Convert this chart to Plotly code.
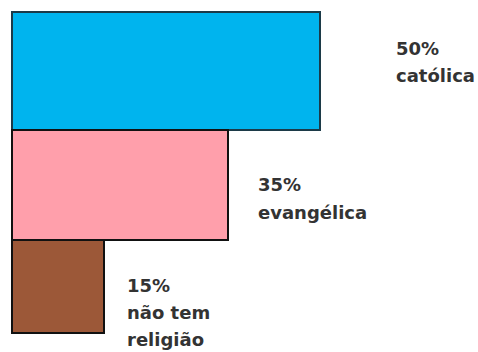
import plotly.graph_objects as go

# Religion shares (percent)
categories = ["católica", "evangélica", "não tem religião"]
values = [50, 35, 15]
value_labels = ["50%", "35%", "15%"]
label_lines = [["católica"], ["evangélica"], ["não tem", "religião"]]

# Styling
W, H = 478, 352
colors = ["#00B4EE", "#FF9FAB", "#9C5838"]
edge_colors = ["#1c3a48", "#111111", "#111111"]
thickness = [118, 110, 93]          # bar thickness in pixels
top = 12                            # top edge of first bar (px)
left = 12                           # pixel where value 0 sits
px_per_unit = 6.16                  # horizontal scale

# stack the bars vertically, each touching the next
centers = []
y = top
for t in thickness:
    centers.append(y + t / 2)
    y += t

fig = go.Figure()
for i, cat in enumerate(categories):
    fig.add_trace(go.Bar(
        x=[values[i]], y=[centers[i]], width=[thickness[i]],
        orientation="h", name=cat,
        marker=dict(color=colors[i], line=dict(color=edge_colors[i], width=2)),
        hoverinfo="skip", showlegend=False,
    ))

# label blocks: left edge and first baseline in pixels, line step
label_pos = [(394, 55), (256, 192), (125, 292)]
line_step = 27
font = dict(family="DejaVu Sans", size=18, color="#333333")

annotations = []
for i in range(len(categories)):
    lx, base = label_pos[i]
    lines = [value_labels[i]] + label_lines[i]
    for j, txt in enumerate(lines):
        b = base + j * line_step
        mid = b - 7
        annotations.append(dict(
            x=lx / W, y=1 - mid / H, xref="paper", yref="paper",
            xanchor="left", yanchor="middle", showarrow=False,
            text="<b>%s</b>" % txt, font=font,
        ))

fig.update_layout(
    width=W, height=H,
    margin=dict(l=0, r=0, t=0, b=0),
    paper_bgcolor="white", plot_bgcolor="white",
    xaxis=dict(range=[-left / px_per_unit, (W - left) / px_per_unit], visible=False, fixedrange=True),
    yaxis=dict(range=[H, 0], visible=False, fixedrange=True),
    bargap=0,
    annotations=annotations,
)

fig.write_html("out.html")
